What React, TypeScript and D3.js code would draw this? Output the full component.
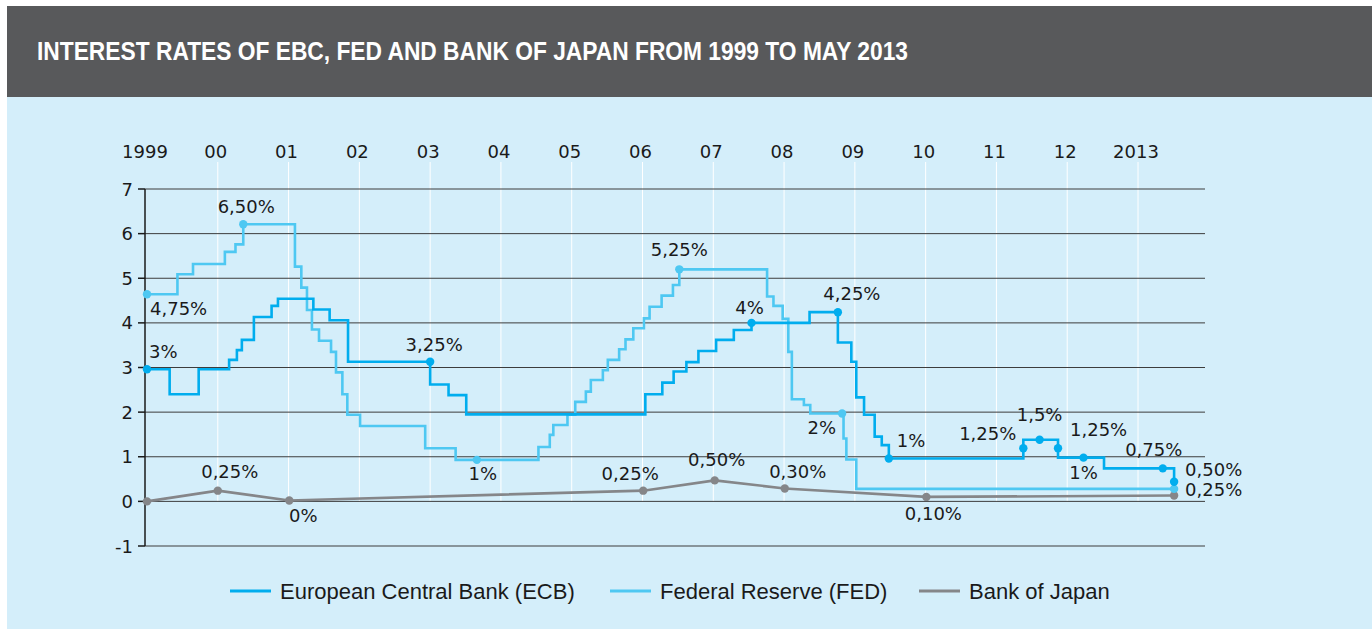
import React from "react";
import * as d3 from "d3";

// years shown along the top, decimal-year positions of each tick
const YEAR_TICKS = [1999, 2000, 2001, 2002, 2003, 2004, 2005, 2006, 2007, 2008, 2009, 2010, 2011, 2012, 2013];
const YEAR_LABELS = ["1999", "00", "01", "02", "03", "04", "05", "06", "07", "08", "09", "10", "11", "12", "2013"];
const Y_TICKS = [-1, 0, 1, 2, 3, 4, 5, 6, 7];

// European Central Bank: step series (date of change, rate as drawn)
const ECB_DATES = [1999.0, 1999.32, 1999.73, 2000.16, 2000.27, 2000.34, 2000.51, 2000.76, 2000.85, 2001.35, 2001.58, 2001.84, 2003.0, 2003.26, 2003.51, 2006.04, 2006.28, 2006.44, 2006.62, 2006.79, 2007.04, 2007.29, 2007.54, 2008.36, 2008.76, 2008.95, 2009.02, 2009.13, 2009.28, 2009.38, 2009.48, 2011.38, 2011.87, 2012.52, 2013.51];
const ECB_RATES = [2.96, 2.4, 2.96, 3.17, 3.39, 3.62, 4.13, 4.38, 4.54, 4.3, 4.06, 3.13, 2.62, 2.38, 1.95, 2.4, 2.66, 2.91, 3.12, 3.37, 3.62, 3.84, 4.0, 4.24, 3.56, 3.13, 2.33, 1.94, 1.45, 1.26, 0.96, 1.38, 0.98, 0.74, 0.44];

// Federal Reserve
const FED_DATES = [1999.0, 1999.43, 1999.65, 2000.1, 2000.25, 2000.36, 2001.09, 2001.18, 2001.26, 2001.33, 2001.43, 2001.6, 2001.67, 2001.76, 2001.83, 2002.01, 2002.93, 2003.36, 2004.53, 2004.69, 2004.74, 2004.94, 2005.05, 2005.2, 2005.27, 2005.44, 2005.51, 2005.67, 2005.76, 2005.87, 2006.02, 2006.1, 2006.27, 2006.43, 2006.52, 2007.76, 2007.85, 2007.98, 2008.06, 2008.11, 2008.28, 2008.37, 2008.84, 2008.88, 2009.02, 2013.51];
const FED_RATES = [4.64, 5.09, 5.32, 5.59, 5.76, 6.21, 5.26, 4.79, 4.29, 3.85, 3.6, 3.35, 2.89, 2.4, 1.94, 1.69, 1.19, 0.93, 1.22, 1.49, 1.71, 1.94, 2.23, 2.46, 2.72, 2.94, 3.17, 3.41, 3.63, 3.88, 4.1, 4.36, 4.61, 4.85, 5.2, 4.59, 4.38, 4.09, 3.35, 2.29, 2.16, 1.97, 1.41, 0.94, 0.28, 0.28];

// Bank of Japan (straight segments between marked points)
const BOJ_DATES = [1999.0, 2000.0, 2001.01, 2006.01, 2007.02, 2008.01, 2010.01, 2013.51];
const BOJ_RATES = [0.0, 0.24, 0.02, 0.24, 0.47, 0.29, 0.1, 0.13];
const BOJ_LABELS = ["", "0,25%", "0%", "0,25%", "0,50%", "0,30%", "0,10%", ""];

// marked points with their printed labels
const ECB_MARK_DATES = [1999.0, 2003.0, 2007.54, 2008.76, 2009.48, 2011.38, 2011.61, 2011.87, 2012.23, 2013.35, 2013.51];
const ECB_MARK_RATES = [2.96, 3.13, 4.0, 4.24, 0.96, 1.19, 1.38, 1.19, 0.98, 0.74, 0.44];
const ECB_MARK_LABELS = ["3%", "3,25%", "4%", "4,25%", "1%", "1,25%", "1,5%", "1,25%", "1%", "0,75%", "0,50%"];

const FED_MARK_DATES = [1999.0, 2000.36, 2003.66, 2006.52, 2008.82, 2013.51];
const FED_MARK_RATES = [4.64, 6.21, 0.93, 5.2, 1.97, 0.28];
const FED_MARK_LABELS = ["4,75%", "6,50%", "1%", "5,25%", "2%", "0,25%"];

const SERIES_NAMES = ["European Central Bank (ECB)", "Federal Reserve (FED)", "Bank of Japan"];

const C_ECB = "#00adee";
const C_FED = "#4ec8f2";
const C_BOJ = "#858689";
const BG = "#d4eefa";
const FONT = "'DejaVu Sans', sans-serif";

// label placement: [dx, dy(baseline), anchor]
const ECB_LABEL_POS: [number, number, string][] = [
  [2, -11, "start"], [4, -11, "middle"], [-2, -9, "middle"], [14, -12, "middle"], [8, -12, "start"],
  [-7, -8, "end"], [0, -19, "middle"], [12, -12, "start"], [0, 21, "middle"], [-9, -12, "middle"], [11, -6, "start"]
];
const FED_LABEL_POS: [number, number, string][] = [
  [3, 21, "start"], [3, -11, "middle"], [6, 20, "middle"], [0, -13, "middle"], [-6, 21, "end"], [11, 7, "start"]
];
const BOJ_LABEL_POS: [number, number, string][] = [
  [0, 0, "middle"], [12, -13, "middle"], [14, 22, "middle"], [-13, -11, "middle"], [2, -14, "middle"], [13, -10, "middle"], [7, 23, "middle"], [0, 0, "middle"]
];

export default function App() {
  const W = 1372, H = 629;
  const x = d3.scaleLinear().domain([1999, 2013]).range([147, 1138]);
  const y = d3.scaleLinear().domain([-1, 7]).range([546, 189]);
  const xLeft = 145, xRight = 1205;

  const step = d3.line<[number, number]>().x(d => x(d[0])).y(d => y(d[1])).curve(d3.curveStepAfter);
  const straight = d3.line<[number, number]>().x(d => x(d[0])).y(d => y(d[1]));

  const ecb = ECB_DATES.map((t, i) => [t, ECB_RATES[i]] as [number, number]);
  const fed = FED_DATES.map((t, i) => [t, FED_RATES[i]] as [number, number]);
  const boj = BOJ_DATES.map((t, i) => [t, BOJ_RATES[i]] as [number, number]);

  const marks = (dates: number[], rates: number[], labels: string[], pos: [number, number, string][], color: string, key: string) =>
    dates.map((t, i) => {
      const cx = x(t), cy = y(rates[i]);
      const [dx, dy, anchor] = pos[i];
      return (
        <g key={key + i}>
          <circle cx={cx} cy={cy} r={4.2} fill={color} />
          {labels[i] ? (
            <text x={cx + dx} y={cy + dy} textAnchor={anchor as any} fontSize={18} fontFamily={FONT} fill="#1a1a1a">{labels[i]}</text>
          ) : null}
        </g>
      );
    });

  const legendX = [230, 610, 919];
  const legendColors = [C_ECB, C_FED, C_BOJ];

  return (
    <svg width={W} height={H} style={{ position: "absolute", left: 0, top: 0 }}>
      <rect x={0} y={0} width={W} height={H} fill="#ffffff" />
      <rect x={7} y={6} width={W - 7} height={91} fill="#58595b" />
      <rect x={7} y={97} width={W - 7} height={H - 97} fill={BG} />
      <text x={37} y={60} fill="#ffffff" fontFamily="'Liberation Sans Narrow', 'Liberation Sans', Arial, sans-serif" fontWeight="bold" fontSize={25} textLength={871} lengthAdjust="spacingAndGlyphs">
        INTEREST RATES OF EBC, FED AND BANK OF JAPAN FROM 1999 TO MAY 2013
      </text>

      {/* white vertical year lines */}
      {YEAR_TICKS.slice(1).map(t => (
        <line key={"v" + t} x1={x(t)} x2={x(t)} y1={162} y2={y(0)} stroke="#ffffff" strokeWidth={1} />
      ))}

      {/* horizontal grid */}
      {Y_TICKS.map(v => (
        <g key={"h" + v}>
          <line x1={xLeft} x2={xRight} y1={y(v)} y2={y(v)} stroke="#3c3c3c" strokeWidth={1} />
          <line x1={138} x2={xLeft} y1={y(v)} y2={y(v)} stroke="#1a1a1a" strokeWidth={1.5} />
          <text x={133} y={y(v) + 6.5} textAnchor="end" fontSize={18} fontFamily={FONT} fill="#1a1a1a">{v}</text>
        </g>
      ))}
      <line x1={xLeft} x2={xLeft} y1={y(7)} y2={y(-1)} stroke="#1a1a1a" strokeWidth={1.5} />

      {/* year labels */}
      {YEAR_TICKS.map((t, i) => (
        <text key={"yl" + t} x={x(t) - 2} y={158} textAnchor="middle" fontSize={18} fontFamily={FONT} fill="#1a1a1a">{YEAR_LABELS[i]}</text>
      ))}

      <path d={straight(boj) || ""} fill="none" stroke={C_BOJ} strokeWidth={2.6} />
      <path d={step(fed) || ""} fill="none" stroke={C_FED} strokeWidth={2.6} />
      <path d={step(ecb) || ""} fill="none" stroke={C_ECB} strokeWidth={2.6} />

      {marks(BOJ_DATES, BOJ_RATES, BOJ_LABELS, BOJ_LABEL_POS, C_BOJ, "b")}
      {marks(FED_MARK_DATES, FED_MARK_RATES, FED_MARK_LABELS, FED_LABEL_POS, C_FED, "f")}
      {marks(ECB_MARK_DATES, ECB_MARK_RATES, ECB_MARK_LABELS, ECB_LABEL_POS, C_ECB, "e")}

      {/* legend */}
      {SERIES_NAMES.map((name, i) => (
        <g key={"lg" + i}>
          <line x1={legendX[i]} x2={legendX[i] + 41} y1={591} y2={591} stroke={legendColors[i]} strokeWidth={3} />
          <text x={legendX[i] + 50} y={598.5} fontSize={22} fontFamily="'Liberation Sans', Arial, sans-serif" fill="#1a1a1a">{name}</text>
        </g>
      ))}
    </svg>
  );
}
